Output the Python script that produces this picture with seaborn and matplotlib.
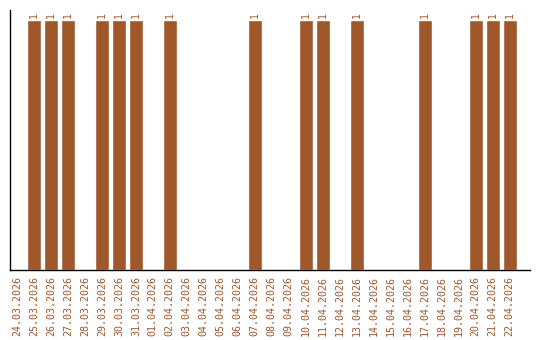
import matplotlib
matplotlib.use("Agg")
import matplotlib.pyplot as plt
import seaborn as sns
import pandas as pd

dates = ["24.03.2026", "25.03.2026", "26.03.2026", "27.03.2026", "28.03.2026",
         "29.03.2026", "30.03.2026", "31.03.2026", "01.04.2026", "02.04.2026",
         "03.04.2026", "04.04.2026", "05.04.2026", "06.04.2026", "07.04.2026",
         "08.04.2026", "09.04.2026", "10.04.2026", "11.04.2026", "12.04.2026",
         "13.04.2026", "14.04.2026", "15.04.2026", "16.04.2026", "17.04.2026",
         "18.04.2026", "19.04.2026", "20.04.2026", "21.04.2026", "22.04.2026"]
counts = [0, 1, 1, 1, 0, 1, 1, 1, 0, 1,
          0, 0, 0, 0, 1, 0, 0, 1, 1, 0,
          1, 0, 0, 0, 1, 0, 0, 1, 1, 1]

df = pd.DataFrame({"date": dates, "count": counts})
color = "#A0582A"

sns.set_style("white")
plt.rcParams['font.family'] = ['DejaVu Sans Mono']

fig = plt.figure(figsize=(5.4, 3.4), dpi=100)
ax = fig.add_axes([10/540, 70/340, 520/540, 260/340])
sns.barplot(data=df, x="date", y="count", color=color, width=0.82,
            saturation=1, ax=ax, order=dates)

for c in ax.containers:
    labels = ["1" if v > 0 else "" for v in c.datavalues]
    ax.bar_label(c, labels=labels, rotation=90, padding=1.5, fontsize=7,
                 color=color)

ax.set_xlim(-0.41, 30.2)
ax.set_ylim(0, 1.04)
ax.set_xlabel("")
ax.set_ylabel("")
ax.set_yticks([])
ax.tick_params(axis="x", length=0, pad=4, labelsize=7.2, labelcolor=color)
for lbl in ax.get_xticklabels():
    lbl.set_rotation(90)
for s in ["top", "right"]:
    ax.spines[s].set_visible(False)
for s in ["left", "bottom"]:
    ax.spines[s].set_color("black")
    ax.spines[s].set_linewidth(1)

fig.savefig("out.png", dpi=100)
